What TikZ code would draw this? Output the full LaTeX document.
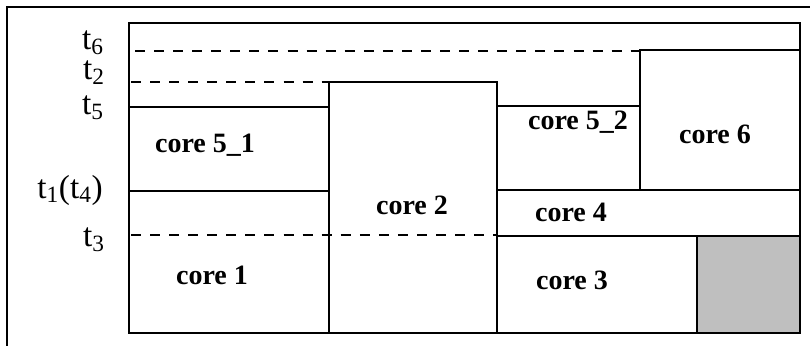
\documentclass[tikz,border=0pt]{standalone}
\usepackage{fontspec}
\setmainfont{Liberation Serif}
\usepackage{tikz}
\usetikzlibrary{calc}

\tikzset{
  box/.style={draw, line width=1.9pt},
  level/.style={line width=2pt, line cap=butt, dash pattern=on 7.5pt off 6.8pt},
  core/.style={font=\fontsize{21}{24}\selectfont\bfseries},
  tick/.style={anchor=east, inner sep=0pt, font=\fontsize{25}{28}\selectfont}
}

\begin{document}
\begin{tikzpicture}[x=0.75pt,y=-0.75pt,line cap=rect]
    \useasboundingbox (0,0) rectangle (810,346);

    % Cadre de la figure
    \draw[line width=1.9pt] (7,346) -- (7,7) -- (810,7);

    % Rectangle principal
    \coordinate (TL) at (129,23);
    \coordinate (BR) at (800,333);
    \draw[box] (TL) rectangle (BR);

    % Les coeurs
    \draw[box] (129,107) rectangle (329,191);
    \draw[box] (129,191) rectangle (329,333);
    \draw[box] (329,82) rectangle (497,333);
    \draw[box] (497,106) rectangle (640,190);
    \draw[box] (640,50) rectangle (800,190);
    \draw[box] (497,190) rectangle (800,236);
    \draw[box] (497,236) rectangle (697,333);
    \draw[box, fill=gray!50] (697,236) rectangle (800,333);

    % Les niveaux en pointille
    \coordinate (A6) at (135,51);
    \coordinate (B6) at (640,51);
    \coordinate (A2) at (131,82);
    \coordinate (B2) at (329,82);
    \coordinate (A3) at (131,235);
    \coordinate (B3) at (497,235);
    \draw[level] (A6) -- (B6);
    \draw[level] (A2) -- (B2);
    \draw[level] (A3) -- (B3);

    % Noms des coeurs
    \node[core] (c51) at (205,145) {core 5\_1};
    \node[core] (c52) at (578,122) {core 5\_2};
    \node[core] (c6) at (715,134) {core 6};
    \node[core] (c2) at (412,205) {core 2};
    \node[core] (c4) at (571,212) {core 4};
    \node[core] (c1) at (212,275) {core 1};
    \node[core] (c3) at (572,280) {core 3};

    % Les instants
    \node[tick] (t6) at (104,43) {t\textsubscript{6}};
    \node[tick] (t2) at (105,73) {t\textsubscript{2}};
    \node[tick] (t5) at (104,108) {t\textsubscript{5}};
    \node[tick] (t14) at (103,190) {t\textsubscript{1}(t\textsubscript{4})};
    \node[tick] (t3) at (105,240) {t\textsubscript{3}};
\end{tikzpicture}
\end{document}
